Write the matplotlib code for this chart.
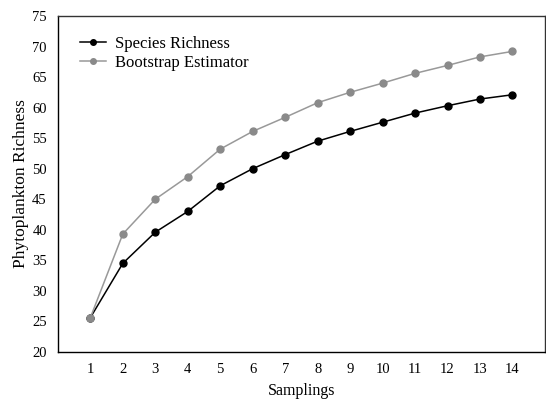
import matplotlib
matplotlib.use("Agg")
import matplotlib.pyplot as plt

samplings = list(range(1, 15))
species_richness = [25.6, 34.5, 39.6, 43.0, 47.2, 50.0, 52.3, 54.5, 56.1, 57.6, 59.1, 60.3, 61.4, 62.1]
bootstrap = [25.6, 39.3, 45.0, 48.7, 53.2, 56.1, 58.4, 60.8, 62.5, 64.0, 65.6, 66.9, 68.3, 69.2]
yticks = list(range(20, 80, 5))

plt.rcParams["font.family"] = ["Liberation Serif", "DejaVu Serif"]

fig = plt.figure(figsize=(5.46, 3.99), dpi=100)
ax = fig.add_axes([0.106, 0.118, 0.892, 0.842])

ax.plot(samplings, species_richness, "-o", color="black", lw=1.1, ms=5,
        label="Species Richness")
ax.plot(samplings, bootstrap, "-o", color="#999999", lw=1.1, ms=5,
        mfc="#8a8a8a", mec="#8a8a8a", label="Bootstrap Estimator")

ax.set_xlim(0, 15)
ax.set_ylim(20, 75)
ax.set_xticks(samplings)
ax.set_yticks(yticks)
ax.tick_params(length=0, labelsize=10.5, pad=8)
for s in ax.spines.values():
    s.set_color("#333333")
    s.set_linewidth(1.0)
ax.spines["left"].set_color("black")
ax.spines["bottom"].set_color("black")

ax.set_xlabel("Samplings", fontsize=11.5, labelpad=5)
ax.set_ylabel("Phytoplankton Richness", fontsize=12.5, labelpad=2)

ax.legend(loc="upper left", bbox_to_anchor=(0.014, 0.985), frameon=False,
          fontsize=12, handlelength=1.6, handletextpad=0.5, labelspacing=0.2,
          markerscale=0.8)

fig.savefig("out.png", dpi=100)
